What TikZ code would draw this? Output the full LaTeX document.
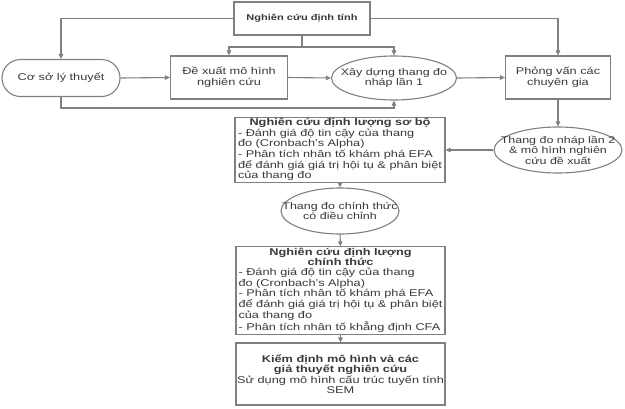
\documentclass[tikz,border=0pt]{standalone}
\usepackage{fontspec}
\setmainfont{Liberation Sans}[FakeStretch=1.3]
\usepackage{xcolor}
\usepackage{tikz}
\usetikzlibrary{positioning,arrows.meta,shapes.geometric,calc}

\definecolor{linegray}{HTML}{808080}
\definecolor{textgray}{HTML}{3A3A3A}

\begin{document}
\begin{tikzpicture}[
    x=1pt, y=-1pt,
    >={Triangle[length=5pt,width=4.5pt]},
    link/.style={draw=linegray, line width=1.1pt},
    box/.style={rectangle, draw=linegray, fill=white, line width=1.1pt, inner sep=1pt, text=textgray, font=\fontsize{9.8}{10.6}\selectfont, align=center},
    listbox/.style={rectangle, draw=linegray, fill=white, line width=1.1pt, inner sep=1pt, text=textgray, font=\fontsize{9.8}{10.2}\selectfont},
    oval/.style={ellipse, draw=linegray, fill=white, line width=1.1pt, inner sep=0pt},
    ovaltext/.style={inner sep=0pt, text=textgray, font=\fontsize{9.6}{10.6}\selectfont, align=center}
]
\useasboundingbox (0,0) rectangle (625,408);

% === Qualitative stage ===
\node[box, minimum width=136pt, minimum height=33pt] (dinhtinh) at (302,18.5) {\fontsize{8.5}{10}\selectfont\bfseries Nghiên cứu định tính};

\node[box, rounded corners=18.5pt, minimum width=118pt, minimum height=37pt] (coso) at (61,78) {Cơ sở lý thuyết};
\node[box, minimum width=117pt, minimum height=43pt] (dexuat) at (229,77.5) {Đề xuất mô hình\\nghiên cứu};
\node[oval, minimum width=125pt, minimum height=44pt] (xaydung) at (394,78) {};
\node[ovaltext] (xaydung-t) at (xaydung) {Xây dựng thang đo\\nháp lần 1};
\node[box, minimum width=105pt, minimum height=43pt] (phongvan) at (558,77.5) {Phỏng vấn các\\chuyên gia};
\node[oval, minimum width=128pt, minimum height=46pt] (nhap2) at (558,150) {};
\node[ovaltext] (nhap2-t) at (nhap2) {Thang đo nháp lần 2\\\& mô hình nghiên\\cứu đề xuất};

% Links from the qualitative stage
\coordinate (split) at (302,47);
\coordinate (back) at (61,108);
\draw[link, ->] (dinhtinh.west) -| (coso.north);
\draw[link, ->] (dinhtinh.east) -| (phongvan.north);
\draw[link] (dinhtinh.south) -- (split);
\draw[link, ->] (split) -| (dexuat.north);
\draw[link, ->] (split) -| (xaydung.north);
\draw[link, ->] (coso.east) -- (dexuat.west);
\draw[link, ->] (dexuat.east) -- (xaydung.west);
\draw[link, ->] (xaydung.east) -- (phongvan.west);
\draw[link, ->] (coso.south) -- (back) -| (xaydung.south);
\draw[link, ->] (phongvan.south) -- (nhap2.north);

% === Quantitative stages ===
\node[listbox, minimum width=210pt, minimum height=61pt] (sobo) at (340,150) {%
    \begin{tabular}{@{}l@{}}
    \multicolumn{1}{@{}c@{}}{\bfseries Nghiên cứu định lượng sơ bộ}\\
    - Đánh giá độ tin cậy của thang\\
    đo (Cronbach's Alpha)\\
    - Phân tích nhân tố khám phá EFA\\
    để đánh giá giá trị hội tụ \& phân biệt\\
    của thang đo
    \end{tabular}};
\node[oval, minimum width=118pt, minimum height=46pt] (chinhthuc) at (340,211) {};
\node[ovaltext] (chinhthuc-t) at (chinhthuc) {Thang đo chính thức\\có điều chỉnh};
\node[listbox, minimum width=209pt, minimum height=81pt] (ctbox) at (340.5,290.5) {%
    \begin{tabular}{@{}l@{}}
    \multicolumn{1}{@{}c@{}}{\bfseries Nghiên cứu định lượng}\\
    \multicolumn{1}{@{}c@{}}{\bfseries chính thức}\\
    - Đánh giá độ tin cậy của thang\\
    đo (Cronbach's Alpha)\\
    - Phân tích nhân tố khám phá EFA\\
    để đánh giá giá trị hội tụ \& phân biệt\\
    của thang đo\\
    - Phân tích nhân tố khẳng định CFA
    \end{tabular}};
\node[box, minimum width=209pt, minimum height=62pt] (kiemdinh) at (340.5,374) {%
    \bfseries Kiểm định mô hình và các\\
    \bfseries giả thuyết nghiên cứu\\
    Sử dụng mô hình cấu trúc tuyến tính\\
    SEM};

% Flow down
\draw[link, ->] (nhap2.west) -- (nhap2.west -| sobo.east);
\draw[link, ->] (sobo.south) -- (chinhthuc.north);
\draw[link, ->] (chinhthuc.south) -- (ctbox.north);
\draw[link, ->] (ctbox.south) -- (kiemdinh.north);
\end{tikzpicture}
\end{document}
